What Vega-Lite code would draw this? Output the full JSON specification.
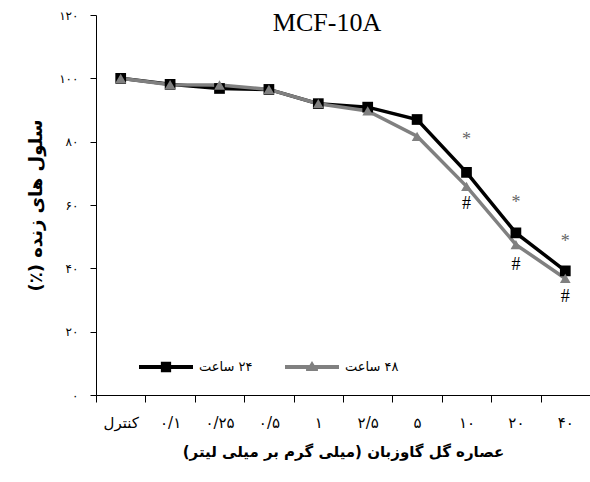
{
  "$schema": "https://vega.github.io/schema/vega-lite/v6.json",
  "autosize": "none",
  "width": 494,
  "height": 380,
  "padding": {"left": 96, "top": 15, "right": 0, "bottom": 87},
  "background": "white",
  "config": {"view": {"stroke": null}},
  "title": {"text": "MCF-10A", "font": "Liberation Serif", "fontSize": 26, "fontWeight": "normal", "color": "black", "offset": -27, "dx": -16, "anchor": "middle"},
  "datasets": {
    "main": [
      {"dose": "کنترل", "series": "‫۲۴ ساعت‬", "viability": 100},
      {"dose": "۰/۱", "series": "‫۲۴ ساعت‬", "viability": 98.1},
      {"dose": "۰/۲۵", "series": "‫۲۴ ساعت‬", "viability": 96.8},
      {"dose": "۰/۵", "series": "‫۲۴ ساعت‬", "viability": 96.5},
      {"dose": "۱", "series": "‫۲۴ ساعت‬", "viability": 92},
      {"dose": "۲/۵", "series": "‫۲۴ ساعت‬", "viability": 90.9},
      {"dose": "۵", "series": "‫۲۴ ساعت‬", "viability": 87},
      {"dose": "۱۰", "series": "‫۲۴ ساعت‬", "viability": 70.3},
      {"dose": "۲۰", "series": "‫۲۴ ساعت‬", "viability": 51.2},
      {"dose": "۴۰", "series": "‫۲۴ ساعت‬", "viability": 39.2},
      {"dose": "کنترل", "series": "‫۴۸ ساعت‬", "viability": 100},
      {"dose": "۰/۱", "series": "‫۴۸ ساعت‬", "viability": 98},
      {"dose": "۰/۲۵", "series": "‫۴۸ ساعت‬", "viability": 97.9},
      {"dose": "۰/۵", "series": "‫۴۸ ساعت‬", "viability": 96.5},
      {"dose": "۱", "series": "‫۴۸ ساعت‬", "viability": 92},
      {"dose": "۲/۵", "series": "‫۴۸ ساعت‬", "viability": 89.7},
      {"dose": "۵", "series": "‫۴۸ ساعت‬", "viability": 81.7},
      {"dose": "۱۰", "series": "‫۴۸ ساعت‬", "viability": 65.9},
      {"dose": "۲۰", "series": "‫۴۸ ساعت‬", "viability": 47.5},
      {"dose": "۴۰", "series": "‫۴۸ ساعت‬", "viability": 36.8}
    ],
    "stars": [
      {"dose": "۱۰", "pos": 80.4, "mark": "*"},
      {"dose": "۲۰", "pos": 60.7, "mark": "*"},
      {"dose": "۴۰", "pos": 48.4, "mark": "*"}
    ],
    "hashes": [
      {"dose": "۱۰", "pos": 60.4, "mark": "#"},
      {"dose": "۲۰", "pos": 41.1, "mark": "#"},
      {"dose": "۴۰", "pos": 31.0, "mark": "#"}
    ]
  },
  "layer": [
    {
      "data": {"name": "main"},
      "mark": {"type": "line", "strokeWidth": 3.5},
      "encoding": {
        "x": {"field": "dose", "type": "nominal", "sort": ["کنترل", "۰/۱", "۰/۲۵", "۰/۵", "۱", "۲/۵", "۵", "۱۰", "۲۰", "۴۰"],
          "scale": {"type": "band", "paddingInner": 0, "paddingOuter": 0},
          "axis": {"title": "‫عصاره گل گاوزبان (میلی گرم بر میلی لیتر)‬", "titleFont": "DejaVu Sans", "titleFontSize": 15, "titleFontWeight": "bold", "titleColor": "black", "titlePadding": 14,
            "labelAngle": 0, "labelFont": "DejaVu Sans", "labelFontSize": 15, "labelColor": "black", "labelPadding": 13,
            "tickBand": "extent", "tickSize": 7, "tickColor": "black", "domainColor": "black", "domainWidth": 1, "tickWidth": 1, "grid": false}},
        "y": {"field": "viability", "type": "quantitative", "scale": {"domain": [0, 120]},
          "axis": {"title": "‫سلول های زنده (٪)‬", "titleFont": "DejaVu Sans", "titleFontSize": 18, "titleFontWeight": "bold", "titleColor": "black", "titlePadding": 13,
            "values": [0, 20, 40, 60, 80, 100, 120],
            "labelExpr": "datum.value==0?'۰':datum.value==20?'۲۰':datum.value==40?'۴۰':datum.value==60?'۶۰':datum.value==80?'۸۰':datum.value==100?'۱۰۰':'۱۲۰'",
            "labelFont": "DejaVu Sans", "labelFontSize": 12, "labelColor": "black", "labelPadding": 12,
            "tickSize": 6, "tickColor": "black", "domainColor": "black", "grid": false}},
        "color": {"field": "series", "type": "nominal",
          "scale": {"domain": ["‫۲۴ ساعت‬", "‫۴۸ ساعت‬"], "range": ["#000000", "#808080"]},
          "legend": {"title": null, "orient": "none", "legendX": 43, "legendY": 325, "direction": "horizontal",
            "labelFont": "DejaVu Sans", "labelFontSize": 13, "labelColor": "black", "labelOffset": 6, "columnPadding": 32,
            "symbolSize": 2916, "symbolStrokeWidth": 0,
            "encode": {"symbols": {"update": {
              "shape": {"signal": "indexof(datum.value, '۲۴') >= 0 ? 'M-1,-0.07L-0.19,-0.07L-0.19,-0.19L0.19,-0.19L0.19,-0.07L1,-0.07L1,0.07L0.19,0.07L0.19,0.19L-0.19,0.19L-0.19,0.07L-1,0.07Z' : 'M-1,-0.07L-0.09,-0.07L0,-0.22L0.09,-0.07L1,-0.07L1,0.07L0.22,0.07L0.22,0.15L-0.22,0.15L-0.22,0.07L-1,0.07Z'"},
              "fill": {"signal": "indexof(datum.value, '۲۴') >= 0 ? '#000000' : '#808080'"},
              "fillOpacity": {"value": 1},
              "strokeWidth": {"value": 0}
            }}}}}
      }
    },
    {
      "data": {"name": "main"},
      "mark": {"type": "point", "filled": true, "opacity": 1, "size": 115},
      "encoding": {
        "x": {"field": "dose", "type": "nominal", "sort": ["کنترل", "۰/۱", "۰/۲۵", "۰/۵", "۱", "۲/۵", "۵", "۱۰", "۲۰", "۴۰"]},
        "y": {"field": "viability", "type": "quantitative"},
        "color": {"field": "series", "type": "nominal", "legend": null},
        "shape": {"field": "series", "type": "nominal", "scale": {"domain": ["‫۲۴ ساعت‬", "‫۴۸ ساعت‬"], "range": ["square", "triangle-up"]}, "legend": null}
      }
    },
    {
      "data": {"name": "stars"},
      "mark": {"type": "text", "font": "Liberation Serif", "fontSize": 18, "baseline": "middle", "align": "center", "color": "#666666"},
      "encoding": {
        "x": {"field": "dose", "type": "nominal", "sort": ["کنترل", "۰/۱", "۰/۲۵", "۰/۵", "۱", "۲/۵", "۵", "۱۰", "۲۰", "۴۰"]},
        "y": {"field": "pos", "type": "quantitative"},
        "text": {"field": "mark"}
      }
    },
    {
      "data": {"name": "hashes"},
      "mark": {"type": "text", "font": "Liberation Serif", "fontSize": 18, "baseline": "middle", "align": "center", "color": "#000000"},
      "encoding": {
        "x": {"field": "dose", "type": "nominal", "sort": ["کنترل", "۰/۱", "۰/۲۵", "۰/۵", "۱", "۲/۵", "۵", "۱۰", "۲۰", "۴۰"]},
        "y": {"field": "pos", "type": "quantitative"},
        "text": {"field": "mark"}
      }
    }
  ],
  "resolve": {"legend": {"shape": "independent", "color": "independent"}}
}
